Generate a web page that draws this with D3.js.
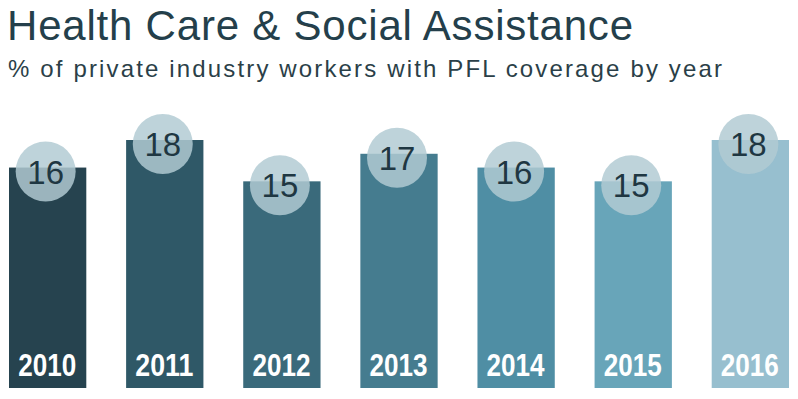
<!DOCTYPE html>
<html>
<head>
<meta charset="utf-8">
<script src="https://cdn.jsdelivr.net/npm/d3@7"></script>
<style>
  html, body { margin: 0; padding: 0; background: #fff; }
  svg { display: block; }
</style>
</head>
<body>
<svg id="chart" width="798" height="399"></svg>
<script>
const years = ['2010', '2011', '2012', '2013', '2014', '2015', '2016']
const coverage = [16, 18, 15, 17, 16, 15, 18]
const barColors = ['#26434f', '#2f5867', '#3a6a7b', '#457c8f', '#4f8ea4', '#68a5b9', '#97bfcf']
const title = 'Health Care & Social Assistance'
const subtitle = '% of private industry workers with PFL coverage by year'

const width = 798
const height = 399
const baseline = 388

const svg = d3.select('#chart')

// Titles
svg.append('text')
  .attr('x', 7)
  .attr('y', 40)
  .attr('fill', '#243f4b')
  .attr('textLength', 626)
  .attr('lengthAdjust', 'spacing')
  .style('font-family', '"Liberation Sans", Arial, sans-serif')
  .style('font-size', '42px')
  .text(title)

svg.append('text')
  .attr('x', 8)
  .attr('y', 77)
  .attr('fill', '#2b3f48')
  .attr('textLength', 714)
  .attr('lengthAdjust', 'spacing')
  .style('font-family', '"Liberation Sans", Arial, sans-serif')
  .style('font-size', '24px')
  .text(subtitle)

const data = years.map((y, i) => ({ year: y, value: coverage[i], color: barColors[i] }))

const xScale = d3.scaleBand()
  .domain(years)
  .range([9, 789])
  .paddingInner(0.34)
  .paddingOuter(0)

const yScale = d3.scaleLinear()
  .domain([0, 18])
  .range([baseline, 140])

// Bars
svg.append('g')
  .selectAll('rect')
  .data(data)
  .join('rect')
  .attr('x', (d) => xScale(d.year))
  .attr('y', (d) => yScale(d.value))
  .attr('width', xScale.bandwidth())
  .attr('height', (d) => baseline - yScale(d.value))
  .attr('fill', (d) => d.color)

// Year labels (condensed bold)
svg.append('g')
  .selectAll('text')
  .data(data)
  .join('text')
  .attr('x', (d) => xScale(d.year) + xScale.bandwidth() / 2 - 29.5)
  .attr('y', 376)
  .attr('textLength', 58)
  .attr('lengthAdjust', 'spacingAndGlyphs')
  .attr('fill', '#fff')
  .style('font-family', '"Liberation Sans", Arial, sans-serif')
  .style('font-weight', 'bold')
  .style('font-size', '32px')
  .text((d) => d.year)

// Value bubbles
const bubbles = svg.append('g')
  .selectAll('g')
  .data(data)
  .join('g')
  .attr('transform', (d) => `translate(${xScale(d.year) + xScale.bandwidth() / 2 - 2},${yScale(d.value) + 4})`)

bubbles.append('circle')
  .attr('r', 30)
  .attr('fill', '#b2cad3')
  .attr('fill-opacity', 0.84)

bubbles.append('text')
  .attr('y', 12)
  .attr('text-anchor', 'middle')
  .attr('fill', '#1f3742')
  .style('font-family', '"Liberation Sans", Arial, sans-serif')
  .style('font-size', '33px')
  .text((d) => d.value)
</script>
</body>
</html>
